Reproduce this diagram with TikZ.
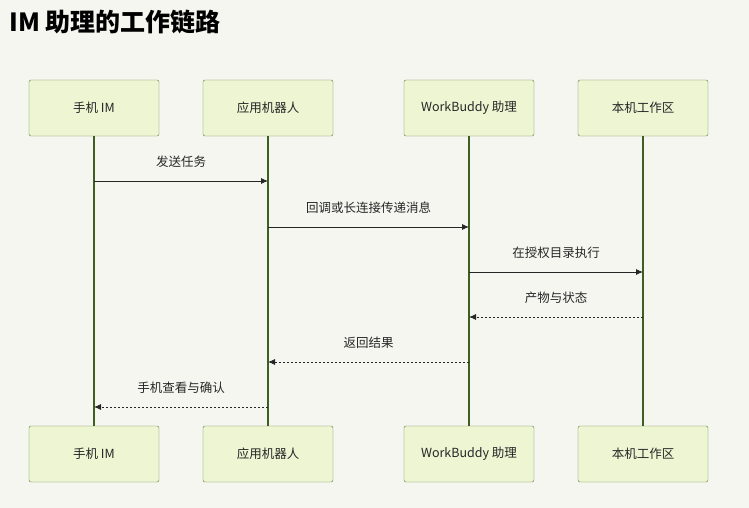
\documentclass[tikz,border=0pt]{standalone}
\usepackage{fontspec}
\setmainfont{Noto Sans CJK SC}
\usetikzlibrary{arrows.meta}
\definecolor{bg}{HTML}{F6F6F1}
\definecolor{boxf}{HTML}{EEF5D3}
\definecolor{boxd}{HTML}{5E7F3C}
\definecolor{life}{HTML}{3F5E22}
\begin{document}
\begin{tikzpicture}[x=1pt,y=-1pt,
  actor/.style={draw=boxd,fill=boxf,rounded corners=2pt,minimum width=130pt,minimum height=56pt,font=\fontsize{12.5}{14}\selectfont,text=black!85},
  life/.style={draw=life,line width=1.3pt},
  msg/.style={draw=black!85,line width=0.8pt,-{Latex[length=7pt,width=6pt]}},
  ret/.style={msg,dashed,dash pattern=on 2pt off 2pt},
  lab/.style={font=\fontsize{12.5}{14}\selectfont,text=black!85}]
\fill[bg] (0,0) rectangle (749,508);
\useasboundingbox (0,0) rectangle (749,508);
\node[anchor=west,font=\bfseries\fontsize{25}{28}\selectfont] (title) at (6,22) {IM 助理的工作链路};
\foreach \n/\x/\t in {a/94/手机 IM,b/268/应用机器人,c/469/WorkBuddy 助理,d/643/本机工作区}{
  \node[actor] (\n1) at (\x,108) {\t};
  \node[actor] (\n2) at (\x,454) {\t};
  \draw[life] (\n1.south) -- (\n2.north);
}
\foreach \s/\d/\y/\t/\st in {a/b/181/发送任务/msg,b/c/227/回调或长连接传递消息/msg,c/d/272/在授权目录执行/msg,d/c/317/产物与状态/ret,c/b/362/返回结果/ret,b/a/407/手机查看与确认/ret}{
  \coordinate (s) at (\s1 |- 0,\y);
  \coordinate (e) at (\d1 |- 0,\y);
  \draw[\st] (s) -- (e) node[lab,midway,above=10pt] {\t};
}
\end{tikzpicture}
\end{document}
